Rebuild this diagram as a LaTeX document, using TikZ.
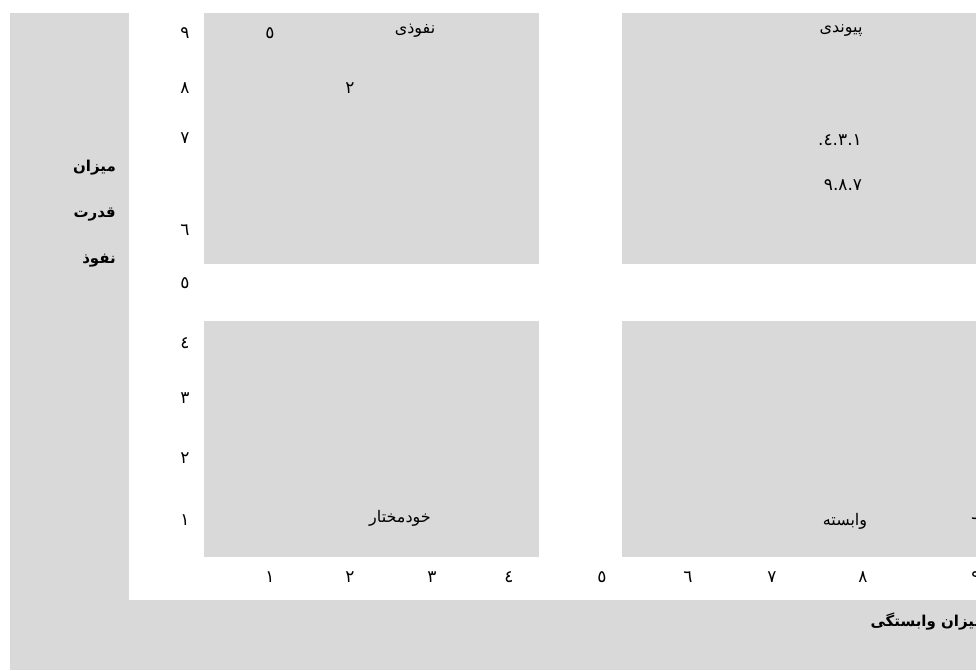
\documentclass[tikz,border=0pt]{standalone}
\usepackage{fontspec}
\TeXXeTstate=1
\newfontfamily\arabicfont[Script=Arabic]{DejaVu Sans}
\newfontfamily\numfont{DejaVu Sans}
\definecolor{panelgray}{HTML}{D9D9D9}
\tikzset{
  panel/.style={fill=panelgray, draw=none, inner sep=0pt, anchor=north west},
  lbl/.style={inner sep=0pt, font=\arabicfont\fontsize{16}{19}\selectfont},
  num/.style={inner sep=0pt, font=\numfont\fontsize{17}{20}\selectfont},
  axislbl/.style={inner sep=0pt, font=\arabicfont\bfseries\fontsize{15}{18}\selectfont}
}
\begin{document}
\begin{tikzpicture}[x=1pt,y=-1pt]
\useasboundingbox (0,0) rectangle (976,670);
% outer L-shaped band
\node[panel, minimum width=119pt, minimum height=588pt] (leftband) at (10,13) {};
\node[panel, minimum width=970pt, minimum height=70pt] (bottomband) at (10,600) {};
% quadrants
\node[panel, minimum width=335pt, minimum height=251pt] (qtl) at (204,13) {};
\node[panel, minimum width=360pt, minimum height=251pt] (qtr) at (622,13) {};
\node[panel, minimum width=335pt, minimum height=236pt] (qbl) at (204,321) {};
\node[panel, minimum width=360pt, minimum height=236pt] (qbr) at (622,321) {};
% axis titles
\node[axislbl, anchor=east] (t1) at (116,168) {\beginR میزان\endR};
\node[axislbl, anchor=east] (t2) at (116,215) {\beginR قدرت\endR};
\node[axislbl, anchor=east] (t3) at (116,261) {\beginR نفوذ\endR};
\node[axislbl, anchor=east] (t4) at (984,621) {\beginR میزان وابستگی\endR};
% y-axis numbers
\node[num] (y9) at (185,33) {٩};
\node[num] (y8) at (185,88) {٨};
\node[num] (y7) at (185,138) {٧};
\node[num] (y6) at (185,230) {٦};
\node[num] (y5) at (185,283) {٥};
\node[num] (y4) at (185,343) {٤};
\node[num] (y3) at (185,398) {٣};
\node[num] (y2) at (185,458) {٢};
\node[num] (y1) at (185,520) {١};
% x-axis numbers
\node[num] (x1) at (270,577) {١};
\node[num] (x2) at (350,577) {٢};
\node[num] (x3) at (432,577) {٣};
\node[num] (x4) at (509,577) {٤};
\node[num] (x5) at (602,577) {٥};
\node[num] (x6) at (688,577) {٦};
\node[num] (x7) at (772,577) {٧};
\node[num] (x8) at (863,577) {٨};
\node[num] (x9) at (976,577) {٩};
% quadrant contents
\node[num] (p5) at (270,33) {٥};
\node[lbl] (nofuzi) at (415,31) {\beginR نفوذی\endR};
\node[num] (p2) at (350,88) {٢};
\node[lbl] (peyvandi) at (841,31) {\beginR پیوندی\endR};
\node[num] (pa) at (840,140) {.٤.٣.١};
\node[num] (pb) at (843,185) {٩.٨.٧};
\node[lbl] (khod) at (400,518) {\beginR خودمختار\endR};
\node[lbl] (vabaste) at (845,521) {\beginR وابسته\endR};
\node[num] (p6) at (976,523) {٦};
\end{tikzpicture}
\end{document}
